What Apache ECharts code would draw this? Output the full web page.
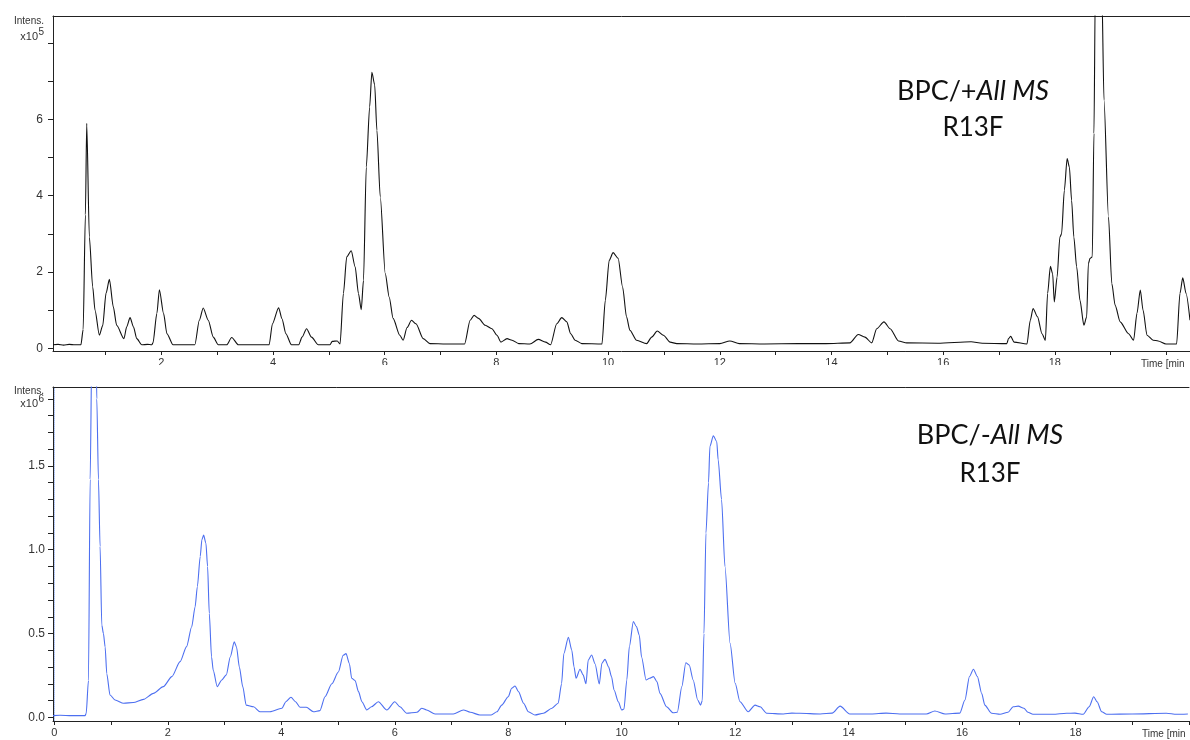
<!DOCTYPE html>
<html>
<head>
<meta charset="utf-8">
<script src="https://cdn.jsdelivr.net/npm/echarts@6/dist/echarts.min.js"></script>
<style>
  html, body { margin: 0; padding: 0; background: #fff; }
  #chart { width: 1190px; height: 740px; }
</style>
</head>
<body>
<div id="chart"></div>
<script>
// BPC positive mode, intensity x10^5
var posTime = [0.06, 0.15, 0.25, 0.35, 0.45, 0.56, 0.60, 0.64, 0.664, 0.711, 0.771, 0.813, 0.89, 0.95, 1.01, 1.07, 1.14, 1.20, 1.33,
    1.38, 1.44, 1.50, 1.56, 1.65, 1.75, 1.83, 1.85, 1.92, 1.965, 2.04, 2.10, 2.21, 2.40, 2.60, 2.68, 2.75, 2.84, 2.93, 3.02,
    3.17, 3.26, 3.38, 3.60, 3.93, 3.99, 4.10, 4.16, 4.23, 4.33, 4.46, 4.52, 4.60, 4.69, 4.81, 5.02, 5.06, 5.15, 5.20,
    5.26, 5.32, 5.40, 5.47, 5.53, 5.58, 5.62, 5.67, 5.73, 5.77, 5.82, 5.86, 5.92, 6.01, 6.08, 6.15, 6.27, 6.33, 6.40,
    6.48, 6.56, 6.69, 6.81, 7.10, 7.43, 7.53, 7.60, 7.68, 7.80, 7.92, 8.01, 8.08, 8.19, 8.28, 8.40, 8.60, 8.75, 8.88,
    8.97, 9.08, 9.17, 9.26, 9.33, 9.41, 9.53, 9.89, 9.95, 10.02, 10.09, 10.18, 10.26, 10.33, 10.39, 10.51, 10.69,
    10.78, 10.88, 10.99, 11.11, 11.23, 11.6, 12.0, 12.18, 12.35, 12.8, 13.4, 13.9, 14.33, 14.48, 14.60, 14.72, 14.81,
    14.94, 15.05, 15.20, 15.35, 15.9, 16.5, 16.7, 17.14, 17.17, 17.21, 17.27, 17.50, 17.56, 17.61, 17.69, 17.77, 17.83,
    17.87, 17.92, 17.96, 17.99, 18.04, 18.09, 18.12, 18.17, 18.22, 18.26, 18.30, 18.34, 18.39, 18.45, 18.52, 18.57,
    18.60, 18.63, 18.67, 18.70, 18.725, 18.78, 18.84, 18.88, 18.96, 19.02, 19.08, 19.17, 19.32, 19.41, 19.47, 19.53,
    19.58, 19.65, 19.76, 19.85, 19.99, 20.18, 20.24, 20.29, 20.35, 20.42];
var posIntens = [0.10, 0.11, 0.09, 0.11, 0.10, 0.10, 0.5, 3.5, 5.89, 2.92, 1.61, 1.00, 0.35, 0.6, 1.45, 1.81, 1.09, 0.61, 0.26,
    0.57, 0.81, 0.57, 0.26, 0.10, 0.11, 0.10, 0.15, 0.92, 1.54, 0.92, 0.39, 0.10, 0.10, 0.10, 0.74, 1.06, 0.74, 0.30, 0.10,
    0.10, 0.29, 0.10, 0.10, 0.10, 0.65, 1.07, 0.78, 0.39, 0.10, 0.10, 0.30, 0.52, 0.30, 0.10, 0.10, 0.19, 0.20, 0.12,
    1.44, 2.40, 2.56, 2.14, 1.44, 1.02, 1.79, 4.75, 6.32, 7.23, 6.9, 5.71, 3.97, 1.96, 1.35, 0.79, 0.35, 0.22, 0.55,
    0.74, 0.65, 0.26, 0.13, 0.12, 0.12, 0.74, 0.87, 0.79, 0.61, 0.52, 0.35, 0.17, 0.26, 0.22, 0.13, 0.12, 0.24, 0.17,
    0.10, 0.65, 0.81, 0.70, 0.39, 0.22, 0.13, 0.12, 1.26, 2.31, 2.51, 2.36, 1.61, 0.83, 0.48, 0.22, 0.13,
    0.30, 0.46, 0.35, 0.17, 0.13, 0.12, 0.13, 0.20, 0.13, 0.12, 0.13, 0.13, 0.15, 0.37, 0.30, 0.15, 0.52,
    0.70, 0.52, 0.20, 0.15, 0.14, 0.18, 0.14, 0.13, 0.26, 0.32, 0.17, 0.12, 0.74, 1.05, 0.83, 0.39, 0.22,
    1.44, 2.15, 1.96, 1.22, 1.87, 2.92, 3.00, 4.14, 4.97, 4.75, 3.88, 2.92, 2.14, 1.26, 0.61, 0.83,
    2.22, 2.36, 2.40, 5.63, 9.5, 12, 9.5, 6.5, 3.45, 1.70, 1.13, 0.70, 0.39, 0.22, 0.92, 1.53,
    1.00, 0.35, 0.22, 0.20, 0.12, 0.12, 1.44, 1.85, 1.44, 0.74];

// BPC negative mode, intensity x10^6
var negTime = [-0.025, 0.1, 0.3, 0.54, 0.56, 0.60, 0.63, 0.66, 0.70, 0.735, 0.747, 0.776, 0.805, 0.835, 0.864, 0.894, 0.923,
    0.98, 1.07, 1.22, 1.39, 1.57, 1.745, 1.92, 2.07, 2.215, 2.33, 2.42, 2.48, 2.52, 2.57, 2.60, 2.63, 2.67, 2.70, 2.73,
    2.77, 2.80, 2.87, 2.95, 3.03, 3.10, 3.17, 3.21, 3.26, 3.32, 3.38, 3.51, 3.625, 3.80, 4.01, 4.08, 4.17, 4.25, 4.33,
    4.44, 4.565, 4.68, 4.77, 4.89, 5.005, 5.09, 5.14, 5.20, 5.24, 5.30, 5.36, 5.42, 5.505, 5.59, 5.71, 5.86, 6.00,
    6.09, 6.21, 6.39, 6.475, 6.56, 6.71, 7.03, 7.21, 7.33, 7.50, 7.70, 7.80, 7.885, 8.00, 8.06, 8.12, 8.18, 8.27,
    8.355, 8.47, 8.62, 8.77, 8.88, 8.94, 8.98, 9.06, 9.12, 9.16, 9.195, 9.265, 9.32, 9.37, 9.41, 9.47, 9.53, 9.605,
    9.65, 9.705, 9.77, 9.82, 9.865, 9.94, 10.00, 10.04, 10.09, 10.135, 10.205, 10.26, 10.31, 10.35, 10.43, 10.49,
    10.56, 10.62, 10.675, 10.79, 10.91, 10.98, 11.06, 11.13, 11.19, 11.26, 11.34, 11.39, 11.42, 11.45, 11.485,
    11.53, 11.555, 11.615, 11.675, 11.70, 11.76, 11.82, 11.91, 12.00, 12.085, 12.23, 12.35, 12.44, 12.555, 12.85,
    13.0, 13.14, 13.5, 13.71, 13.85, 14.02, 14.4, 14.66, 14.9, 15.37, 15.52, 15.7, 15.96, 16.05, 16.13, 16.20, 16.27,
    16.345, 16.40, 16.52, 16.67, 16.81, 16.90, 16.99, 17.09, 17.16, 17.25, 17.60, 17.84, 17.99, 18.135, 18.24,
    18.32, 18.38, 18.46, 18.55, 19.0, 19.6, 19.78, 19.98];
var negIntens = [0.01, 0.012, 0.01, 0.01, 0.024, 0.22, 1.42, 2.2, 2.6, 2.2, 1.90, 1.42, 1.02, 0.55, 0.50, 0.42, 0.26,
    0.133, 0.103, 0.084, 0.088, 0.107, 0.143, 0.183, 0.243, 0.332, 0.422, 0.54, 0.66, 0.78, 0.96, 1.06, 1.087, 1.04, 0.90, 0.62,
    0.36, 0.28, 0.183, 0.223, 0.253, 0.36, 0.45, 0.42, 0.30, 0.183, 0.073, 0.063, 0.033, 0.033, 0.054, 0.093, 0.12, 0.093, 0.06,
    0.06, 0.033, 0.04, 0.123, 0.20, 0.27, 0.37, 0.38, 0.32, 0.233, 0.22, 0.153, 0.093, 0.044, 0.063, 0.093, 0.044, 0.093,
    0.063, 0.024, 0.03, 0.054, 0.044, 0.02, 0.02, 0.044, 0.03, 0.014, 0.014, 0.033, 0.073, 0.123, 0.173, 0.187, 0.153, 0.084,
    0.033, 0.014, 0.024, 0.054, 0.084, 0.20, 0.38, 0.478, 0.40, 0.30, 0.233, 0.287, 0.253, 0.20, 0.342, 0.372, 0.32, 0.199,
    0.322, 0.346, 0.30, 0.243, 0.163, 0.093, 0.044, 0.05, 0.223, 0.422, 0.571, 0.541, 0.49, 0.36, 0.223, 0.233,
    0.243, 0.213, 0.143, 0.063, 0.027, 0.03, 0.183, 0.326, 0.312, 0.223, 0.103, 0.073, 0.10, 0.50, 1.10,
    1.40, 1.617, 1.68, 1.646, 1.537, 1.30, 0.90, 0.442, 0.203, 0.093, 0.033, 0.073, 0.063, 0.024, 0.02,
    0.025, 0.024, 0.02, 0.025, 0.067, 0.02, 0.02, 0.025, 0.02, 0.02, 0.038, 0.02, 0.025, 0.103, 0.243, 0.287, 0.243,
    0.143, 0.073, 0.024, 0.018, 0.03, 0.063, 0.067, 0.054, 0.03, 0.018, 0.018, 0.024, 0.025, 0.018, 0.063,
    0.123, 0.093, 0.033, 0.018, 0.02, 0.024, 0.018, 0.02];

// tick positions and labels
var posXTicks = [1, 2, 3, 4, 5, 6, 7, 8, 9, 10, 11, 12, 13, 14, 15, 16, 17, 18, 19, 20];
var posXLabels = [2, 4, 6, 8, 10, 12, 14, 16, 18];
var posYTicks = [0, 1, 2, 3, 4, 5, 6, 7, 8];
var posYLabels = [0, 2, 4, 6];
var negXTicks = [0, 1, 2, 3, 4, 5, 6, 7, 8, 9, 10, 11, 12, 13, 14, 15, 16, 17, 18, 19, 20];
var negXLabels = [0, 2, 4, 6, 8, 10, 12, 14, 16, 18];
var negYTicks = [0, 0.1, 0.2, 0.3, 0.4, 0.5, 0.6, 0.7, 0.8, 0.9, 1.0, 1.1, 1.2, 1.3, 1.4, 1.5, 1.6, 1.7, 1.8, 1.9];
var negYLabels = [0, 0.5, 1.0, 1.5];

function zip(xs, ys) {
    var out = [];
    for (var i = 0; i < xs.length; i++) {
        out.push([xs[i], ys[i]]);
    }
    return out;
}

var axisColor = '#222';
var labelFont = 'Liberation Sans';

function bottomAxis(gridIndex, min, max, ticks, labels) {
    return {
        type: 'value', gridIndex: gridIndex, min: min, max: max, position: 'bottom',
        axisLine: {show: true, onZero: false, lineStyle: {color: axisColor, width: 1}},
        axisTick: {show: true, length: 4, customValues: ticks, lineStyle: {color: axisColor}},
        axisLabel: {show: true, customValues: labels, color: '#333', fontSize: 11, fontFamily: labelFont, margin: 6},
        splitLine: {show: false}
    };
}

function topAxis(gridIndex, min, max) {
    return {
        type: 'value', gridIndex: gridIndex, min: min, max: max, position: 'top',
        axisLine: {show: true, onZero: false, lineStyle: {color: axisColor, width: 1}},
        axisTick: {show: false}, axisLabel: {show: false}, splitLine: {show: false}
    };
}

function leftAxis(gridIndex, min, max, ticks, labels, fmt, margin) {
    return {
        type: 'value', gridIndex: gridIndex, min: min, max: max, position: 'left',
        axisLine: {show: true, onZero: false, lineStyle: {color: axisColor, width: 1}},
        axisTick: {show: true, length: 5, customValues: ticks, lineStyle: {color: axisColor}},
        axisLabel: {show: true, customValues: labels, color: '#333', fontSize: 12, fontFamily: labelFont,
            margin: margin, formatter: fmt},
        splitLine: {show: false}
    };
}

var dom = document.getElementById('chart');
var myChart = echarts.init(dom, null, {renderer: 'canvas'});
var option = {
    animation: false,
    backgroundColor: '#fff',
    grid: [
        {left: 53, top: 16, width: 1137, height: 335},
        {left: 53, top: 387, width: 1136, height: 334}
    ],
    xAxis: [
        bottomAxis(0, 0.06, 20.42, posXTicks, posXLabels),
        topAxis(0, 0.06, 20.42),
        bottomAxis(1, -0.025, 20, negXTicks, negXLabels),
        topAxis(1, -0.025, 20)
    ],
    yAxis: [
        leftAxis(0, -0.063, 8.7, posYTicks, posYLabels, function (v) { return String(Math.round(v)); }, 10),
        leftAxis(1, -0.022, 1.971, negYTicks, negYLabels, function (v) { return v.toFixed(1); }, 8),
        {
            type: 'value', gridIndex: 1, min: -0.022, max: 1.971, position: 'right',
            axisLine: {show: true, lineStyle: {color: '#a9bff2', type: 'dotted', width: 1}},
            axisTick: {show: false}, axisLabel: {show: false}, splitLine: {show: false}
        }
    ],
    series: [
        {
            name: 'BPC +All MS', type: 'line', xAxisIndex: 0, yAxisIndex: 0,
            data: zip(posTime, posIntens), showSymbol: false, symbol: 'none',
            smooth: 0.25, smoothMonotone: 'x', clip: true,
            lineStyle: {color: '#111', width: 1.1}
        },
        {
            name: 'BPC -All MS', type: 'line', xAxisIndex: 2, yAxisIndex: 1,
            data: zip(negTime, negIntens), showSymbol: false, symbol: 'none',
            smooth: 0.25, smoothMonotone: 'x', clip: true,
            lineStyle: {color: '#4d6ff0', width: 1.1}
        }
    ],
    graphic: [
        {type: 'rect', shape: {x: 0, y: 365, width: 1190, height: 20}, style: {fill: '#fff'}, z: 50},
        {type: 'text', x: 1141, y: 364, z: 60, style: {text: 'Time [min', fontSize: 10, fontFamily: labelFont, fill: '#333', align: 'left', verticalAlign: 'middle'}},
        {type: 'text', x: 1142, y: 734, z: 60, style: {text: 'Time [min', fontSize: 10, fontFamily: labelFont, fill: '#333', align: 'left', verticalAlign: 'middle'}},

        {type: 'text', x: 44, y: 21.5, z: 60, style: {text: 'Intens.', fontSize: 10, fontFamily: labelFont, fill: '#333', align: 'right', verticalAlign: 'middle'}},
        {type: 'text', x: 38, y: 37, z: 60, style: {text: 'x10', fontSize: 11, fontFamily: labelFont, fill: '#333', align: 'right', verticalAlign: 'middle'}},
        {type: 'text', x: 38.5, y: 32, z: 60, style: {text: '5', fontSize: 10, fontFamily: labelFont, fill: '#333', align: 'left', verticalAlign: 'middle'}},
        {type: 'text', x: 44, y: 391.5, z: 60, style: {text: 'Intens.', fontSize: 10, fontFamily: labelFont, fill: '#333', align: 'right', verticalAlign: 'middle'}},
        {type: 'text', x: 38, y: 404, z: 60, style: {text: 'x10', fontSize: 11, fontFamily: labelFont, fill: '#333', align: 'right', verticalAlign: 'middle'}},
        {type: 'text', x: 38.5, y: 399, z: 60, style: {text: '6', fontSize: 10, fontFamily: labelFont, fill: '#333', align: 'left', verticalAlign: 'middle'}},

        {type: 'text', x: 973, y: 91, z: 60, style: {
            text: '{n|BPC/+}{i|All MS}', align: 'center', verticalAlign: 'middle', fill: '#111',
            rich: {
                n: {fontSize: 27, fontFamily: 'Lato', fontStyle: 'normal', color: '#111'},
                i: {fontSize: 27, fontFamily: 'Lato', fontStyle: 'italic', color: '#111'}
            }
        }},
        {type: 'text', x: 973, y: 128, z: 60, style: {text: 'R13F', fontSize: 26, fontFamily: 'Lato', fill: '#111', align: 'center', verticalAlign: 'middle'}},
        {type: 'text', x: 990, y: 435, z: 60, style: {
            text: '{n|BPC/-}{i|All MS}', align: 'center', verticalAlign: 'middle', fill: '#111',
            rich: {
                n: {fontSize: 27, fontFamily: 'Lato', fontStyle: 'normal', color: '#111'},
                i: {fontSize: 27, fontFamily: 'Lato', fontStyle: 'italic', color: '#111'}
            }
        }},
        {type: 'text', x: 990, y: 474, z: 60, style: {text: 'R13F', fontSize: 26, fontFamily: 'Lato', fill: '#111', align: 'center', verticalAlign: 'middle'}}
    ]
};

if (option && typeof option === "object") {
    myChart.setOption(option, true);
}
</script>
</body>
</html>
